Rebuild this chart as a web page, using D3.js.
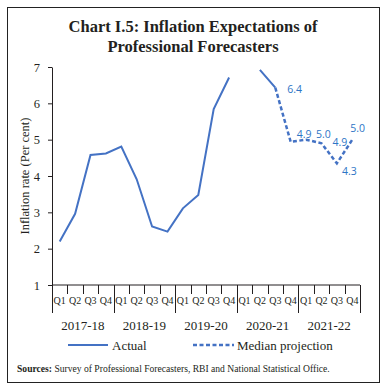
<!DOCTYPE html>
<html lang="en">
<head>
    <meta charset="UTF-8">
    <script src="https://d3js.org/d3.v7.min.js"></script>
    <title>Chart I.5</title>
    <style>
        body { margin: 0; background: white; }
        text { font-family: "Liberation Serif", "DejaVu Serif", serif; }
    </style>
</head>
<body>
<div id="chart"></div>
<script>
    // data
    var years = ["2017-18", "2018-19", "2019-20", "2020-21", "2021-22"];
    var quarters = ["Q1", "Q2", "Q3", "Q4"];
    // actual inflation, one value per quarter (null = no value)
    var actual = [2.2, 2.96, 4.58, 4.62, 4.81, 3.91, 2.61, 2.47, 3.11, 3.48, 5.84, 6.71,
                  null, 6.92, 6.43, null, null, null, null, null];
    // median projection, starts from the last actual point
    var projection = [null, null, null, null, null, null, null, null, null, null, null, null,
                      null, null, 6.43, 4.94, 5.0, 4.9, 4.35, 5.0];
    var projLabels = [null, null, null, null, null, null, null, null, null, null, null, null,
                      null, null, "6.4", "4.9", "5.0", "4.9", "4.3", "5.0"];
    var yTicks = [1, 2, 3, 4, 5, 6, 7];

    var canvasWidth = 386;
    var canvasHeight = 391;
    var blue = "#4472C4";
    var labelBlue = "#2E75C6";

    var svg = d3.select("#chart").append("svg")
        .attr("width", canvasWidth)
        .attr("height", canvasHeight);

    // frame
    svg.append("rect")
        .attr("x", 7.5).attr("y", 7.5)
        .attr("width", 372).attr("height", 375)
        .attr("fill", "none").attr("stroke", "#222").attr("stroke-width", 1);

    // title
    svg.append("text").attr("x", 193).attr("y", 32).attr("text-anchor", "middle")
        .attr("font-size", "16.5px").attr("font-weight", "bold").attr("fill", "#231f20")
        .text("Chart I.5: Inflation Expectations of");
    svg.append("text").attr("x", 193).attr("y", 52).attr("text-anchor", "middle")
        .attr("font-size", "16.5px").attr("font-weight", "bold").attr("fill", "#231f20")
        .text("Professional Forecasters");

    var plotLeft = 52, plotRight = 360, plotTop = 67, plotBottom = 285;

    var keys = [];
    years.forEach(function (y) {
        quarters.forEach(function (q) { keys.push(y + "|" + q); });
    });

    var xScale = d3.scaleBand().domain(keys).range([plotLeft, plotRight]);
    var xYear = d3.scaleBand().domain(years).range([plotLeft, plotRight]);
    var yScale = d3.scaleLinear().domain([1, 7]).range([plotBottom, plotTop]);

    // y axis
    var yAxis = svg.append("g")
        .attr("transform", "translate(" + plotLeft + ",0)")
        .call(d3.axisLeft(yScale).tickValues(yTicks).tickFormat(d3.format("d"))
            .tickSize(4).tickSizeOuter(0).tickPadding(8));
    yAxis.selectAll("text").attr("font-size", "12.5px").attr("fill", "#231f20")
        .style("font-family", "Liberation Serif");
    yAxis.selectAll("line, path").attr("stroke", "#231f20");

    svg.append("text")
        .attr("transform", "translate(29," + ((plotTop + plotBottom) / 2) + ") rotate(-90)")
        .attr("text-anchor", "middle")
        .attr("font-size", "12.5px").attr("fill", "#231f20")
        .text("Inflation rate (Per cent)");

    // x axis line
    svg.append("line")
        .attr("x1", plotLeft).attr("x2", plotRight).attr("y1", plotBottom).attr("y2", plotBottom)
        .attr("stroke", "#231f20");

    // quarter ticks at band edges
    var qTicks = svg.append("g");
    keys.forEach(function (k, i) {
        if (i === 0) return;
        var x = Math.round(xScale(k)) + 0.5;
        var major = (i % 4 === 0);
        qTicks.append("line")
            .attr("x1", x).attr("x2", x)
            .attr("y1", plotBottom).attr("y2", major ? 313 : 294)
            .attr("stroke", "#231f20");
    });
    [plotLeft, plotRight].forEach(function (x) {
        qTicks.append("line").attr("x1", x + 0.5).attr("x2", x + 0.5)
            .attr("y1", plotBottom).attr("y2", 313).attr("stroke", "#231f20");
    });

    svg.append("g").selectAll("text").data(keys).enter().append("text")
        .attr("x", function (d) { return xScale(d) + xScale.bandwidth() / 2; })
        .attr("y", 304)
        .attr("text-anchor", "middle")
        .attr("font-size", "10px").attr("fill", "#231f20")
        .text(function (d) { return d.split("|")[1]; });

    svg.append("g").selectAll("text").data(years).enter().append("text")
        .attr("x", function (d) { return xYear(d) + xYear.bandwidth() / 2; })
        .attr("y", 330)
        .attr("text-anchor", "middle")
        .attr("font-size", "13px").attr("fill", "#231f20")
        .text(function (d) { return d; });

    // lines
    var line = d3.line()
        .defined(function (d) { return d.v !== null; })
        .x(function (d) { return xScale(d.k) + xScale.bandwidth() / 2; })
        .y(function (d) { return yScale(d.v); });

    var actualData = keys.map(function (k, i) { return { k: k, v: actual[i] }; });
    var projData = keys.map(function (k, i) { return { k: k, v: projection[i], l: projLabels[i] }; });

    svg.append("path").datum(actualData)
        .attr("d", line).attr("fill", "none")
        .attr("stroke", blue).attr("stroke-width", 2);

    svg.append("path").datum(projData)
        .attr("d", line).attr("fill", "none")
        .attr("stroke", blue).attr("stroke-width", 2.5)
        .attr("stroke-dasharray", "4,2.5");

    // data labels
    var labelOffsets = [[12, 5], [6, -4], [10, -2], [11, 3], [5, 12], [-2, -8]];
    var labelled = projData.filter(function (d) { return d.l !== null; });
    svg.append("g").selectAll("text").data(labelled).enter().append("text")
        .attr("x", function (d, i) { return xScale(d.k) + xScale.bandwidth() / 2 + labelOffsets[i][0]; })
        .attr("y", function (d, i) { return yScale(d.v) + labelOffsets[i][1]; })
        .attr("font-size", "10.5px").attr("fill", labelBlue)
        .style("font-family", "Open Sans, Noto Sans, sans-serif")
        .text(function (d) { return d.l; });

    // legend
    svg.append("line").attr("x1", 68).attr("x2", 108).attr("y1", 345).attr("y2", 345)
        .attr("stroke", blue).attr("stroke-width", 2);
    svg.append("text").attr("x", 112).attr("y", 349.5)
        .attr("font-size", "13px").attr("fill", "#231f20").text("Actual");
    svg.append("line").attr("x1", 193).attr("x2", 234).attr("y1", 345).attr("y2", 345)
        .attr("stroke", blue).attr("stroke-width", 2.5).attr("stroke-dasharray", "4,2.5");
    svg.append("text").attr("x", 237).attr("y", 349.5)
        .attr("font-size", "13px").attr("fill", "#231f20").text("Median projection");

    // source note
    var src = svg.append("text").attr("x", 17).attr("y", 372)
        .attr("font-size", "9.6px").attr("fill", "#231f20");
    src.append("tspan").attr("font-weight", "bold").text("Sources:");
    src.append("tspan").text(" Survey of Professional Forecasters, RBI and National Statistical Office.");
</script>
</body>
</html>
